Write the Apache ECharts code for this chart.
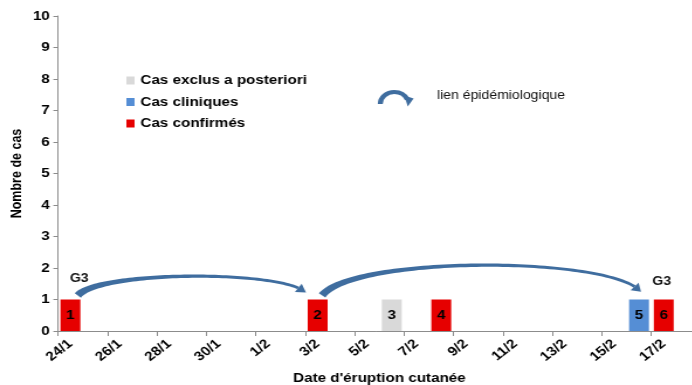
<!DOCTYPE html>
<html>
<head>
<meta charset="utf-8">
<script src="https://cdn.jsdelivr.net/npm/echarts@6/dist/echarts.min.js"></script>
<style>
  html, body { margin: 0; padding: 0; background: #fff; overflow: hidden; }
  /* the figure uses a wide aspect: the chart is laid out narrower and stretched horizontally */
  #chart { width: 592px; height: 385px; transform: scaleX(1.17); transform-origin: 0 0; }
</style>
</head>
<body>
<div id="chart"></div>
<script>
// Daily categories of rash onset
const dates = ['24/1','25/1','26/1','27/1','28/1','29/1','30/1','31/1',
  '1/2','2/2','3/2','4/2','5/2','6/2','7/2','8/2','9/2','10/2','11/2',
  '12/2','13/2','14/2','15/2','16/2','17/2','18/2'];

// Individual cases: onset date, case number, classification
const caseDates   = ['24/1', '3/2', '6/2', '8/2', '16/2', '17/2'];
const caseNumbers = [1, 2, 3, 4, 5, 6];
const caseStatus  = ['confirme', 'confirme', 'exclu', 'confirme', 'clinique', 'confirme'];

// Epidemiological links between cases (from -> to)
const links = [['24/1', '3/2'], ['3/2', '16/2']];

// Genotype results
const genotypeDates  = ['24/1', '17/2'];
const genotypeLabels = ['G3', 'G3'];

const yTicks = [0, 1, 2, 3, 4, 5, 6, 7, 8, 9, 10];

const FONT = '"Liberation Sans", Arial, sans-serif';
const ARROW_BLUE = '#3f6d9f';

function countsFor(status) {
  return dates.map(d => {
    let n = 0;
    caseDates.forEach((cd, i) => { if (cd === d && caseStatus[i] === status) n++; });
    return n === 0 ? '-' : n;
  });
}
function caseLabel(date) {
  const i = caseDates.indexOf(date);
  return i >= 0 ? String(caseNumbers[i]) : '';
}

// Drawing parameters of each link arc (in band / y-unit fractions)
const arcShapes = [
  { startShift: 0.30, startLift: 1.13, endShift: -0.47, endLift: 1.22, peak: 1.74 },
  { startShift: 0.18, startLift: 1.13, endShift: 0.08,  endLift: 1.25, peak: 2.09 }
];
const genotypeOffsets = [
  { dx: 0.36, y: 1.65 },
  { dx: -0.08, y: 1.57 }
];

function bez(P, t) {
  const u = 1 - t;
  return [
    u*u*u*P[0][0] + 3*u*u*t*P[1][0] + 3*u*t*t*P[2][0] + t*t*t*P[3][0],
    u*u*u*P[0][1] + 3*u*u*t*P[1][1] + 3*u*t*t*P[2][1] + t*t*t*P[3][1]
  ];
}

function renderArc(params, api) {
  const st = arcShapes[params.dataIndex];
  const from = api.value(0), to = api.value(1);
  const band = api.size([1, 0])[0];
  const unit = api.size([0, 1])[1];
  const a = api.coord([from, 0]);
  const b = api.coord([to, 0]);
  const x0 = a[0] + band * st.startShift, y0 = a[1] - st.startLift * unit;
  const x3 = b[0] + band * st.endShift,   y3 = b[1] - st.endLift * unit;
  const peak = a[1] - st.peak * unit;
  const c = (peak - (y0 + y3) / 8) / 0.75;
  const k = (x3 - x0) * 0.1;
  const P = [[x0, y0], [x0 + k, c], [x3 - k, c], [x3, y3]];

  const N = 80, pts = [];
  for (let i = 0; i <= N; i++) pts.push(bez(P, i / N));
  const tip = pts[N];
  const headLen = 7, headHalf = 5;
  let last = N;
  while (last > 0 && Math.hypot(pts[last][0] - tip[0], pts[last][1] - tip[1]) < headLen) last--;

  const left = [], right = [];
  for (let i = 0; i <= last; i++) {
    const p = pts[i];
    const q = pts[Math.min(i + 1, N)], r = pts[Math.max(i - 1, 0)];
    let tx = q[0] - r[0], ty = q[1] - r[1];
    const len = Math.hypot(tx, ty) || 1; tx /= len; ty /= len;
    const t = i / N;
    const w = (2.8 + 4.2 * Math.pow(1 - t, 3)) / 2;
    left.push([p[0] - ty * w, p[1] + tx * w]);
    right.push([p[0] + ty * w, p[1] - tx * w]);
  }
  const base = pts[last];
  let dx = tip[0] - base[0], dy = tip[1] - base[1];
  const dl = Math.hypot(dx, dy) || 1; dx /= dl; dy /= dl;
  const head = [
    [base[0] - dy * headHalf, base[1] + dx * headHalf],
    tip,
    [base[0] + dy * headHalf, base[1] - dx * headHalf]
  ];
  return {
    type: 'group',
    children: [
      { type: 'polygon', shape: { points: left.concat(right.reverse()) },
        style: { fill: ARROW_BLUE } },
      { type: 'polygon', shape: { points: head }, style: { fill: ARROW_BLUE } }
    ]
  };
}

function renderGenotype(params, api) {
  const off = genotypeOffsets[params.dataIndex];
  const band = api.size([1, 0])[0];
  const p = api.coord([api.value(0), off.y]);
  return {
    type: 'text',
    x: p[0] + off.dx * band,
    y: p[1],
    style: {
      text: genotypeLabels[params.dataIndex],
      font: 'bold 12px ' + FONT,
      fill: '#111',
      align: 'center',
      verticalAlign: 'middle'
    }
  };
}

const barLabel = {
  show: true,
  position: 'inside',
  formatter: p => caseLabel(p.name),
  color: '#000',
  fontFamily: FONT,
  fontWeight: 'bold',
  fontSize: 13
};

const chart = echarts.init(document.getElementById('chart'), null, { renderer: 'canvas' });

chart.setOption({
  animation: false,
  backgroundColor: '#fff',
  textStyle: { fontFamily: FONT },
  grid: { left: 49.6, right: -7, top: 16, bottom: 54, containLabel: false, outerBoundsMode: 'none' },
  legend: {
    orient: 'vertical',
    left: 103,
    top: 69,
    itemWidth: 7,
    itemHeight: 8,
    itemGap: 8.5,
    icon: 'rect',
    data: ['Cas exclus a posteriori', 'Cas cliniques', 'Cas confirmés'],
    textStyle: { fontFamily: FONT, fontWeight: 'bold', fontSize: 13, color: '#000' }
  },
  xAxis: {
    type: 'category',
    data: dates,
    boundaryGap: true,
    name: "Date d'éruption cutanée",
    nameLocation: 'middle',
    nameGap: 41,
    nameMoveOverlap: false,
    nameTextStyle: { fontFamily: FONT, fontWeight: 'bold', fontSize: 13, color: '#000' },
    axisLine: { lineStyle: { color: '#8c8c8c', width: 1 } },
    axisTick: { show: true, interval: 1, length: 5, lineStyle: { color: '#8c8c8c' } },
    axisLabel: {
      interval: 1,
      rotate: 42,
      margin: 11,
      color: '#000',
      fontFamily: FONT,
      fontWeight: 'bold',
      fontSize: 13
    },
    splitLine: { show: false }
  },
  yAxis: {
    type: 'value',
    min: yTicks[0],
    max: yTicks[yTicks.length - 1],
    interval: 1,
    name: 'Nombre de cas',
    nameLocation: 'middle',
    nameGap: 29,
    nameMoveOverlap: false,
    nameTextStyle: { fontFamily: FONT, fontWeight: 'bold', fontSize: 12.5, color: '#000' },
    axisLine: { show: true, lineStyle: { color: '#8c8c8c', width: 1 } },
    axisTick: { show: true, length: 4, lineStyle: { color: '#8c8c8c' } },
    axisLabel: { margin: 7, color: '#000', fontFamily: FONT, fontWeight: 'bold', fontSize: 13 },
    splitLine: { show: false }
  },
  series: [
    {
      name: 'Cas exclus a posteriori',
      type: 'bar', stack: 'cas', barWidth: 17,
      itemStyle: { color: '#d9d9d9' },
      label: barLabel,
      data: countsFor('exclu')
    },
    {
      name: 'Cas cliniques',
      type: 'bar', stack: 'cas', barWidth: 17,
      itemStyle: { color: '#558ed5' },
      label: barLabel,
      data: countsFor('clinique')
    },
    {
      name: 'Cas confirmés',
      type: 'bar', stack: 'cas', barWidth: 17,
      itemStyle: { color: '#e60000' },
      label: barLabel,
      data: countsFor('confirme')
    },
    {
      type: 'custom',
      name: 'lien',
      renderItem: renderArc,
      silent: true,
      z: 5,
      data: links.map(l => [dates.indexOf(l[0]), dates.indexOf(l[1])])
    },
    {
      type: 'custom',
      name: 'génotype',
      renderItem: renderGenotype,
      silent: true,
      z: 5,
      data: genotypeDates.map(d => [dates.indexOf(d), 0])
    }
  ],
  graphic: [
    {
      type: 'arc',
      shape: { cx: 337, cy: 104, r: 12, startAngle: Math.PI, endAngle: Math.PI * 2 - 0.4, clockwise: true },
      style: { stroke: ARROW_BLUE, lineWidth: 4.2, fill: null }
    },
    {
      type: 'polygon',
      shape: { points: [[345.5, 95.5], [353.5, 98.5], [348.5, 106.5]] },
      style: { fill: ARROW_BLUE }
    },
    {
      type: 'text',
      left: 373.5,
      top: 90,
      style: { text: 'lien épidémiologique', font: '12px ' + FONT, fill: '#111' }
    }
  ]
});
</script>
</body>
</html>
